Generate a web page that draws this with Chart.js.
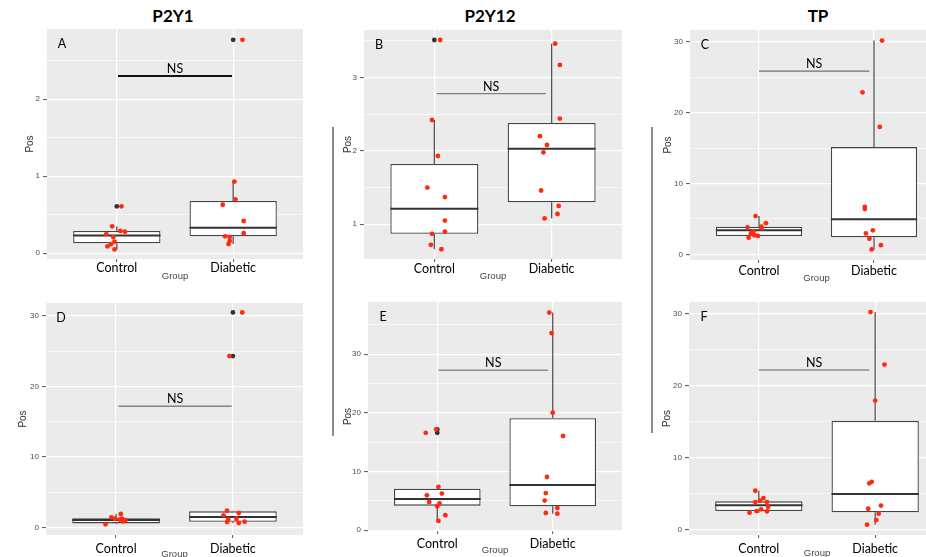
<!DOCTYPE html>
<html>
<head>
<meta charset="utf-8">
<script src="https://cdn.jsdelivr.net/npm/chart.js@4.4.0/dist/chart.umd.min.js"></script>
<style>
    body { margin: 0; width: 926px; height: 557px; overflow: hidden; background: #fff; position: relative; font-family: Lato, sans-serif; }
    canvas { position: absolute; }
    .title { position: absolute; top: 5px; font: bold 17px Lato, sans-serif; transform: translateX(-50%); color: #000; }
    .sep { position: absolute; width: 2px; background: #8c8c8c; }
</style>
</head>
<body>
<div class="title" style="left:173px">P2Y1</div>
<div class="title" style="left:490px">P2Y12</div>
<div class="title" style="left:818px">TP</div>
<div class="sep" style="left:332px;top:127px;height:309px"></div>
<div class="sep" style="left:651px;top:127px;height:306px"></div>
<script>
const groups = ['Control', 'Diabetic'];

// A - P2Y1
const aCtrl = [0.61, 0.35, 0.29, 0.28, 0.25, 0.21, 0.15, 0.12, 0.09, 0.05];
const aCtrlJit = [0.04, -0.04, 0.03, 0.07, -0.09, -0.03, -0.02, -0.05, -0.08, -0.02];
const aDiab = [2.77, 0.93, 0.70, 0.63, 0.42, 0.26, 0.22, 0.21, 0.16, 0.12];
const aDiabJit = [0.08, 0.01, 0.02, -0.09, 0.09, 0.09, -0.07, -0.03, -0.03, -0.04];
const aBox = [[0.05, 0.13, 0.23, 0.29, 0.35], [0.12, 0.22, 0.33, 0.68, 0.93]];
const aOut = [[0.61], [2.77]];
const aSig = [1.01, 1.99, 2.3];

// B - P2Y12
const bCtrl = [3.51, 2.42, 1.93, 1.50, 1.37, 1.05, 0.90, 0.87, 0.72, 0.66];
const bCtrlJit = [0.05, -0.02, 0.03, -0.06, 0.09, 0.09, 0.09, -0.02, -0.03, 0.06];
const bDiab = [3.46, 3.17, 2.44, 2.20, 2.08, 1.98, 1.46, 1.25, 1.14, 1.08];
const bDiabJit = [0.03, 0.07, 0.07, -0.10, -0.04, -0.07, -0.09, 0.06, 0.05, -0.06];
const bBox = [[0.66, 0.87, 1.21, 1.82, 2.42], [1.08, 1.30, 2.03, 2.38, 3.46]];
const bOut = [[3.51], []];
const bSig = [1.02, 1.95, 2.78];

// C - TP
const cCtrl = [5.4, 4.4, 3.8, 3.9, 3.7, 3.25, 2.95, 2.7, 2.6, 2.35];
const cCtrlJit = [-0.03, 0.06, -0.1, 0.02, 0.02, -0.05, -0.07, -0.04, -0.01, -0.09];
const cDiab = [30.2, 22.9, 18.0, 6.7, 6.4, 3.4, 2.95, 2.2, 1.3, 0.7];
const cDiabJit = [0.07, -0.1, 0.05, -0.08, -0.08, -0.01, -0.07, -0.04, 0.06, -0.02];
const cBox = [[2.35, 2.6, 3.4, 3.9, 5.4], [0.7, 2.4, 4.95, 15.15, 30.2]];
const cOut = [[], []];
const cSig = [1.0, 1.96, 25.9];

// D - P2Y1
const dCtrl = [1.9, 1.42, 1.22, 1.22, 1.1, 1.03, 0.85, 0.42];
const dCtrlJit = [0.04, -0.04, -0.01, 0.05, 0.03, 0.08, 0.06, -0.09];
const dDiab = [30.5, 24.3, 2.36, 2.03, 1.7, 1.22, 1.13, 0.8, 0.75, 0.61];
const dDiabJit = [0.08, -0.03, -0.05, 0.05, -0.08, 0.03, -0.04, 0.1, -0.05, 0.05];
const dBox = [[0.42, 0.56, 1.03, 1.27, 1.9], [0.6, 0.8, 1.46, 2.27, 2.36]];
const dOut = [[], [30.5, 24.3]];
const dSig = [1.02, 1.99, 17.2];

// E - P2Y12
const eCtrl = [17.2, 16.6, 7.4, 6.25, 5.96, 4.82, 4.6, 4.1, 2.56, 1.6];
const eCtrlJit = [-0.01, -0.10, 0.01, 0.04, -0.09, -0.07, 0.02, 0.0, 0.07, 0.01];
const eDiab = [37.1, 33.6, 20.05, 16.07, 9.08, 6.35, 5.06, 3.8, 2.95, 2.84];
const eDiabJit = [-0.03, -0.01, 0.0, 0.09, -0.05, -0.06, -0.07, 0.04, -0.06, 0.04];
const eBox = [[1.6, 4.2, 5.33, 7.1, 7.4], [2.84, 4.09, 7.72, 19.08, 37.1]];
const eOut = [[17.2, 16.6], []];
const eSig = [1.01, 1.96, 27.26];

// F - TP
const fCtrl = [5.36, 4.35, 3.97, 3.79, 3.79, 3.1, 2.78, 2.54, 2.5, 2.31];
const fCtrlJit = [-0.03, 0.04, 0.01, -0.03, 0.07, 0.08, 0.02, -0.02, 0.07, -0.08];
const fDiab = [30.2, 22.9, 17.9, 6.6, 6.4, 3.3, 2.86, 2.17, 1.29, 0.64];
const fDiabJit = [-0.04, 0.08, 0.0, -0.03, -0.05, 0.05, -0.06, 0.03, 0.01, -0.07];
const fBox = [[2.31, 2.54, 3.33, 3.89, 5.36], [0.64, 2.36, 4.9, 15.08, 30.2]];
const fOut = [[], []];
const fSig = [1.0, 1.95, 22.13];

const smallTicks = [0, 1, 2];
const smallMinor = [0.5, 1.5, 2.5];
const midTicks = [1, 2, 3];
const midMinor = [1.5, 2.5, 3.5];
const bigTicks = [0, 10, 20, 30];
const bigMinor = [5, 15, 25, 35];

const RED = '#ff2a10';

const panels = [
    {letter: 'A', ctrl: aCtrl, ctrlJit: aCtrlJit, diab: aDiab, diabJit: aDiabJit, box: aBox, out: aOut, sig: aSig,
     yMin: -0.074, yMax: 2.91, major: smallTicks, minor: smallMinor,
     canvas: [0, 0, 320, 282], area: [47, 29, 303, 259], xPad: 0, gPad: 0, posPad: 24, sigColor: '#111', sigWidth: 2.2},
    {letter: 'B', ctrl: bCtrl, ctrlJit: bCtrlJit, diab: bDiab, diabJit: bDiabJit, box: bBox, out: bOut, sig: bSig,
     yMin: 0.527, yMax: 3.646, major: midTicks, minor: midMinor,
     canvas: [320, 0, 310, 282], area: [364, 30, 622, 259], xPad: 1, gPad: 0, posPad: 22, sigColor: '#808080', sigWidth: 1.3},
    {letter: 'C', ctrl: cCtrl, ctrlJit: cCtrlJit, diab: cDiab, diabJit: cDiabJit, box: cBox, out: cOut, sig: cSig,
     yMin: -0.8, yMax: 31.7, major: bigTicks, minor: bigMinor,
     canvas: [640, 0, 310, 285], area: [690, 30, 943, 260], xPad: 1.5, gPad: 1.3, posPad: 22, sigColor: '#707070', sigWidth: 1.2},
    {letter: 'D', ctrl: dCtrl, ctrlJit: dCtrlJit, diab: dDiab, diabJit: dDiabJit, box: dBox, out: dOut, sig: dSig,
     yMin: -1.09, yMax: 31.84, major: bigTicks, minor: bigMinor,
     canvas: [0, 285, 320, 275], area: [46, 303, 303, 535], xPad: 5, gPad: 0.3, posPad: 17, sigColor: '#505050', sigWidth: 1},
    {letter: 'E', ctrl: eCtrl, ctrlJit: eCtrlJit, diab: eDiab, diabJit: eDiabJit, box: eBox, out: eOut, sig: eSig,
     yMin: -0.12, yMax: 38.9, major: bigTicks, minor: bigMinor,
     canvas: [320, 285, 310, 275], area: [368, 302, 622, 531], xPad: 4, gPad: 4.3, posPad: 22, sigColor: '#8c8c8c', sigWidth: 1.5},
    {letter: 'F', ctrl: fCtrl, ctrlJit: fCtrlJit, diab: fDiab, diabJit: fDiabJit, box: fBox, out: fOut, sig: fSig,
     yMin: -0.79, yMax: 31.6, major: bigTicks, minor: bigMinor,
     canvas: [640, 285, 310, 275], area: [689, 302, 945, 535], xPad: 4.5, gPad: 1.3, posPad: 21, sigColor: '#8c8c8c', sigWidth: 1.5}
];

const decor = {
    id: 'decor',
    beforeDraw(chart) {
        const a = chart.chartArea;
        const ctx = chart.ctx;
        ctx.save();
        ctx.fillStyle = '#ebebeb';
        ctx.fillRect(a.left, a.top, a.right - a.left, a.bottom - a.top);
        ctx.restore();
    },
    afterDatasetsDraw(chart, args, opts) {
        const a = chart.chartArea;
        const ctx = chart.ctx;
        const xs = chart.scales.x, ys = chart.scales.y;
        ctx.save();
        ctx.fillStyle = '#000';
        ctx.font = '12.5px Lato';
        ctx.textAlign = 'center';
        ctx.textBaseline = 'middle';
        ctx.fillText(opts.letter, a.left + 15, a.top + 15);
        const sx = (xs.getPixelForValue(opts.sig[0]) + xs.getPixelForValue(opts.sig[1])) / 2;
        ctx.fillText('NS', sx, ys.getPixelForValue(opts.sig[2]) - 7);
        ctx.restore();
    }
};

const pts = (vals, jit, c) => vals.map((v, i) => ({x: c + jit[i], y: v}));

function makePanel(p) {
    const [L, T, W, H] = p.canvas;
    const [x0, y0, x1, y1] = p.area;
    const cv = document.createElement('canvas');
    cv.width = W;
    cv.height = H;
    cv.style.left = L + 'px';
    cv.style.top = T + 'px';
    cv.style.width = W + 'px';
    cv.style.height = H + 'px';
    document.body.appendChild(cv);

    const yTicks = p.major.concat(p.minor).filter(v => v >= p.yMin && v <= p.yMax).sort((a, b) => a - b);
    const isMajor = v => p.major.includes(v);

    const datasets = [
        {type: 'scatter', data: pts(p.ctrl, p.ctrlJit, 1).concat(pts(p.diab, p.diabJit, 2)),
         backgroundColor: RED, borderWidth: 0, pointRadius: 2.4, order: 0},
        {type: 'scatter', data: p.out[0].map(v => ({x: 1, y: v})).concat(p.out[1].map(v => ({x: 2, y: v}))),
         backgroundColor: '#333', borderWidth: 0, pointRadius: 2.4, order: 1}
    ];
    p.box.forEach((b, i) => {
        const c = i + 1;
        datasets.push({type: 'line', data: [{x: c - 0.375, y: b[2]}, {x: c + 0.375, y: b[2]}],
            borderColor: '#333', borderWidth: 2, pointRadius: 0, order: 2});
        datasets.push({type: 'line', data: [{x: c, y: b[0]}, {x: c, y: b[1]}],
            borderColor: '#555', borderWidth: 1.3, pointRadius: 0, order: 3});
        datasets.push({type: 'line', data: [{x: c, y: b[3]}, {x: c, y: b[4]}],
            borderColor: '#555', borderWidth: 1.3, pointRadius: 0, order: 3});
    });
    datasets.push({type: 'bar', data: p.box.map((b, i) => ({x: i + 1, y: [b[1], b[3]]})),
        backgroundColor: '#fff', borderColor: '#444', borderWidth: 1.3, borderSkipped: false,
        barPercentage: 0.75, categoryPercentage: 1, order: 4});
    datasets.push({type: 'line', data: [{x: p.sig[0], y: p.sig[2]}, {x: p.sig[1], y: p.sig[2]}],
        borderColor: p.sigColor, borderWidth: p.sigWidth, pointRadius: 0, order: 5});

    new Chart(cv.getContext('2d'), {
        type: 'scatter',
        data: {datasets: datasets},
        options: {
            responsive: false,
            animation: false,
            devicePixelRatio: 1,
            layout: {padding: {left: 0, top: y0 - T, right: L + W - x1, bottom: 0}},
            plugins: {
                legend: {display: false},
                tooltip: {enabled: false},
                decor: {letter: p.letter, sig: p.sig}
            },
            scales: {
                x: {
                    type: 'linear', min: 0.4, max: 2.6, offset: false,
                    afterBuildTicks: s => { s.ticks = [{value: 1}, {value: 2}]; },
                    afterFit: s => { s.height = T + H - y1; },
                    ticks: {
                        callback: v => groups[v - 1],
                        font: {family: 'Lato', size: 12.5, lineHeight: 1},
                        color: '#000', padding: p.xPad, maxRotation: 0, autoSkip: false
                    },
                    grid: {color: '#fff', lineWidth: 1.2, offset: false, tickLength: 3, tickColor: '#555', tickWidth: 1},
                    border: {display: false},
                    title: {display: true, text: 'Group', color: '#444',
                        font: {family: 'Liberation Sans', size: 9.5}, padding: {top: 0, bottom: p.gPad}}
                },
                y: {
                    type: 'linear', min: p.yMin, max: p.yMax,
                    afterBuildTicks: s => { s.ticks = yTicks.map(v => ({value: v})); },
                    afterFit: s => { s.width = x0 - L; },
                    ticks: {
                        callback: v => isMajor(v) ? String(v) : '',
                        font: {family: 'Liberation Sans', size: 8},
                        color: '#4d4d4d', padding: 3, autoSkip: false
                    },
                    grid: {
                        color: '#fff',
                        lineWidth: c => (c.tick && isMajor(c.tick.value)) ? 1.2 : 0.6,
                        tickLength: 4,
                        tickColor: c => (c.tick && isMajor(c.tick.value)) ? '#555' : 'rgba(0,0,0,0)',
                        tickWidth: 1
                    },
                    border: {display: false},
                    title: {display: true, text: 'Pos', color: '#333',
                        font: {family: 'Liberation Sans', size: 10}, padding: {top: p.posPad, bottom: 0}}
                }
            }
        },
        plugins: [decor]
    });
}

panels.forEach(makePanel);
</script>
</body>
</html>
